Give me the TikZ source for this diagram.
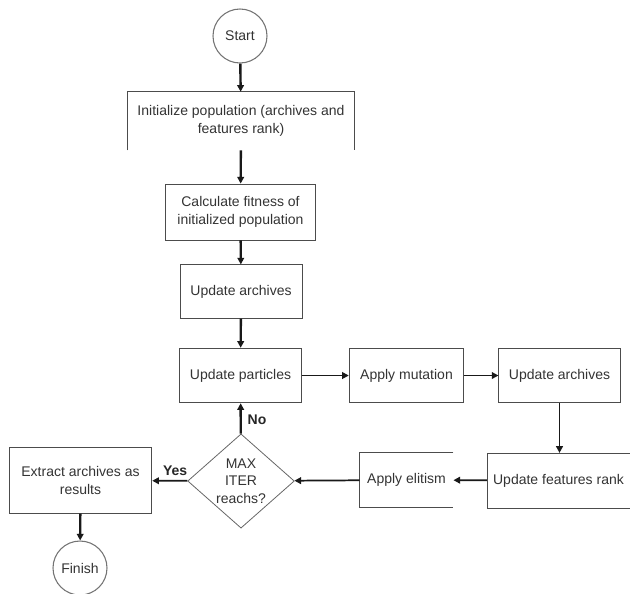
\documentclass[tikz,border=0pt]{standalone}
\usepackage{fontspec}
\setmainfont{Liberation Sans}
\usetikzlibrary{arrows.meta,shapes.geometric}

\begin{document}
\begin{tikzpicture}[x=0.75pt,y=-0.75pt,
    >={Triangle[length=5pt,width=5pt]},
    every node/.style={font=\fontsize{10.5}{13}\selectfont,text=black!80},
    box/.style={draw=black!70,line width=0.6pt,inner sep=0pt,align=center},
    term/.style={circle,draw=black!55,line width=0.8pt,minimum size=40.5pt,inner sep=0pt},
    dec/.style={diamond,draw=black!60,line width=0.6pt,minimum width=80pt,minimum height=69pt,inner sep=0pt,align=center},
    fl/.style={->,line width=1.3pt,black!90},
    flv/.style={fl,line width=1.8pt},
    lbl/.style={font=\fontsize{10.5}{12}\selectfont\bfseries,text=black!85},
  ]
  \useasboundingbox (0,0) rectangle (630,593);

  % -- main column --
  \node[term] (start) at (240,36) {Start};
  \node[inner sep=0pt,align=center,minimum width=170pt,minimum height=43.5pt] (init) at (241,121)
       {Initialize population (archives and\\features rank)};
  \draw[draw=black!70,line width=0.6pt] (init.south west) -- (init.north west) -- (init.north east) -- (init.south east);
  \node[box,minimum width=113pt,minimum height=42pt] (calc) at (240.5,212)
       {Calculate fitness of\\initialized population};
  \node[box,minimum width=91.5pt,minimum height=40pt] (arch) at (241,291.5) {Update archives};

  % -- the loop --
  \node[box,minimum width=91pt,minimum height=41pt] (part) at (240.5,375.5) {Update particles};
  \node[box,minimum width=86pt,minimum height=41pt] (mut) at (406.5,375.5) {Apply mutation};
  \node[box,minimum width=91pt,minimum height=41pt] (archb) at (559.5,375.5) {Update archives};
  \node[inner sep=0pt,minimum width=107pt,minimum height=41pt] (rank) at (558.5,480.5) {Update features rank};
  \draw[draw=black!70,line width=0.6pt] (rank.north east) -- (rank.north west) -- (rank.south west) -- (rank.south east);
  \node[inner sep=0pt,minimum width=70pt,minimum height=40.5pt] (elit) at (406.5,480) {Apply elitism};
  \draw[draw=black!70,line width=0.6pt] (elit.north east) -- (elit.north west) -- (elit.south west) -- (elit.south east);
  \node[dec] (iter) at (241,481) {MAX\\ITER\\reachs?};

  % -- exit --
  \node[box,minimum width=107pt,minimum height=49pt] (ext) at (80.5,480.5) {Extract archives as\\results};
  \node[term] (fin) at (80,568) {Finish};

  % -- connectors --
  \draw[flv] (start) -- (init);
  \draw[flv] (init) -- (calc);
  \draw[flv] (calc) -- (arch);
  \draw[flv] (arch) -- (part);
  \draw[fl] (part) -- (mut);
  \draw[fl] (mut) -- (archb);
  \draw[fl] (archb.south) -- (archb.south |- rank.north);
  \draw[fl] (rank) -- (elit);
  \draw[fl] (elit) -- (iter);
  \draw[flv] (iter) -- node[lbl,right,pos=0.45,xshift=1pt] {No} (part);
  \draw[fl] (iter) -- node[lbl,above,pos=0.35] {Yes} (ext);
  \draw[flv] (ext) -- (fin);
\end{tikzpicture}
\end{document}
